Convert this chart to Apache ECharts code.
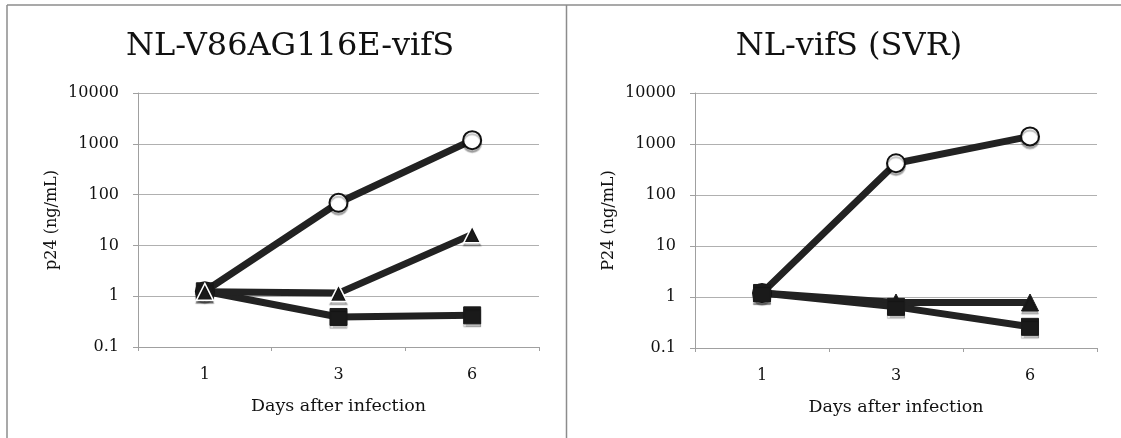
<!DOCTYPE html>
<html>
<head>
<meta charset="utf-8">
<script src="https://cdn.jsdelivr.net/npm/echarts@6/dist/echarts.min.js"></script>
<style>
html,body{margin:0;padding:0;background:#fff;}
#chart{width:1121px;height:438px;}
</style>
</head>
<body>
<div id="chart"></div>
<script>
// ---- data ----
const days = ['1', '3', '6'];
const yTickLabels = ['0.1', '1', '10', '100', '1000', '10000'];
const titleLeft = 'NL-V86AG116E-vifS';
const titleRight = 'NL-vifS (SVR)';
const yNameLeft = 'p24 (ng/mL)';
const yNameRight = 'P24 (ng/mL)';
const xName = 'Days after infection';

// left panel (NL-V86AG116E-vifS)
const circleLeft   = [1.25, 69, 1180];
const triangleLeft = [1.22, 1.15, 16.5];
const squareLeft   = [1.25, 0.39, 0.42];
// right panel (NL-vifS (SVR))
const circleRight   = [1.2, 420, 1410];
const triangleRight = [1.2, 0.78, 0.78];
const squareRight   = [1.2, 0.64, 0.26];

// ---- chart ----
const FONT = 'DejaVu Serif';
const LINE = '#222222';
const chart = echarts.init(document.getElementById('chart'), null, {renderer: 'canvas'});

function yAxis(gridIndex, name) {
  return {
    type: 'log', logBase: 10, gridIndex: gridIndex, min: 0.1, max: 10000,
    name: name, nameLocation: 'middle', nameGap: 78, nameRotate: 90,
    nameTextStyle: {fontFamily: FONT, fontSize: 16, color: '#111'},
    axisLine: {show: true, lineStyle: {color: '#a0a0a0', width: 1}},
    axisTick: {show: true, length: 5, lineStyle: {color: '#a0a0a0'}},
    axisLabel: {
      margin: 19, fontFamily: FONT, fontSize: 16, color: '#111',
      formatter: function (v) {
        const i = Math.round(Math.log10(v)) + 1;
        return yTickLabels[i] !== undefined ? yTickLabels[i] : '';
      }
    },
    splitLine: {show: true, lineStyle: {color: '#b0b0b0', width: 1}}
  };
}
function xAxis(gridIndex) {
  return {
    type: 'category', gridIndex: gridIndex, data: days, boundaryGap: true,
    name: xName, nameLocation: 'middle', nameGap: 50,
    nameTextStyle: {fontFamily: FONT, fontSize: 17.5, color: '#111'},
    axisLine: {show: true, lineStyle: {color: '#a0a0a0', width: 1}},
    axisTick: {show: true, length: 4, alignWithLabel: false, lineStyle: {color: '#a0a0a0'}},
    axisLabel: {margin: 20, fontFamily: FONT, fontSize: 16, color: '#111'},
    splitLine: {show: false}
  };
}
function series(idx, data, symbol, size, fill, border, borderW) {
  return {
    type: 'line', xAxisIndex: idx, yAxisIndex: idx, data: data,
    symbol: symbol, symbolSize: size, showSymbol: true,
    lineStyle: {color: LINE, width: 7},
    itemStyle: {color: fill, borderColor: border, borderWidth: borderW,
                shadowColor: 'rgba(0,0,0,0.25)', shadowOffsetY: 3, shadowBlur: 1},
    animation: false, z: 2
  };
}

chart.setOption({
  backgroundColor: '#ffffff',
  animation: false,
  title: [
    {text: titleLeft, left: 285, top: 26, textAlign: 'center',
     textStyle: {fontFamily: FONT, fontSize: 32, fontWeight: 'normal', color: '#111'}},
    {text: titleRight, left: 844, top: 26, textAlign: 'center',
     textStyle: {fontFamily: FONT, fontSize: 32, fontWeight: 'normal', color: '#111'}}
  ],
  grid: [
    {left: 138, top: 93, width: 401, height: 254},
    {left: 695, top: 93, width: 402, height: 255}
  ],
  xAxis: [xAxis(0), xAxis(1)],
  yAxis: [yAxis(0, yNameLeft), yAxis(1, yNameRight)],
  series: [
    series(0, circleLeft, 'circle', 18, '#ffffff', '#111', 2),
    series(0, squareLeft, 'rect', 17, '#1a1a1a', '#1a1a1a', 1),
    series(0, triangleLeft, 'triangle', 17, '#1a1a1a', '#ffffff', 1.5),
    series(1, circleRight, 'circle', 18, '#ffffff', '#111', 2),
    series(1, triangleRight, 'triangle', 17, '#1a1a1a', '#1a1a1a', 1),
    series(1, squareRight, 'rect', 17, '#1a1a1a', '#1a1a1a', 1)
  ],
  graphic: [
    {type: 'line', shape: {x1: 7, y1: 5, x2: 1121, y2: 5}, style: {stroke: '#8c8c8c', lineWidth: 1.5}, silent: true},
    {type: 'line', shape: {x1: 7, y1: 5, x2: 7, y2: 438}, style: {stroke: '#8c8c8c', lineWidth: 1.5}, silent: true},
    {type: 'line', shape: {x1: 566.5, y1: 5, x2: 566.5, y2: 438}, style: {stroke: '#8c8c8c', lineWidth: 1.5}, silent: true}
  ]
});
</script>
</body>
</html>
